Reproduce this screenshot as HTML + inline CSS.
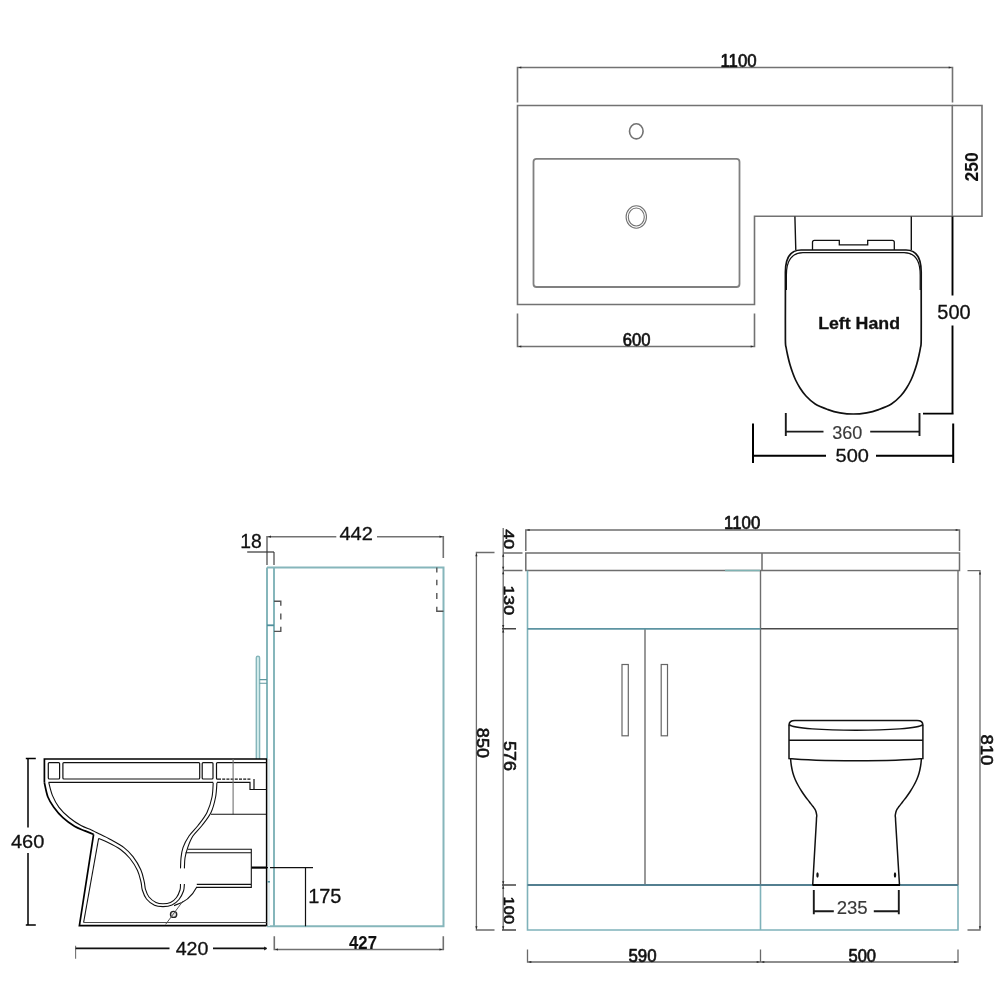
<!DOCTYPE html>
<html lang="en">
<head>
<meta charset="utf-8">
<title>Left Hand Combination Unit Dimensions</title>
<style>
html,body{margin:0;padding:0;background:#fff;}
body{width:1001px;height:1001px;overflow:hidden;position:relative;}
svg{display:block;position:absolute;left:0;top:0;will-change:transform;}
text{font-family:"Liberation Sans",Arial,Helvetica,sans-serif;fill:#111;stroke-linejoin:round;}
.g{stroke:#727272;stroke-width:1.6;fill:none;}
.k{stroke:#111;stroke-width:1.5;fill:none;}
.k2{stroke:#000;stroke-width:2.2;fill:none;}
.kt{stroke:#222;stroke-width:1.1;fill:none;}
.t{stroke:#86b6bb;stroke-width:2;fill:none;}
.td{stroke:#4f8f9c;stroke-width:1.8;fill:none;}
.d{stroke:#555;stroke-width:1.4;fill:none;}
</style>
</head>
<body>
<svg width="1001" height="1001" viewBox="0 0 1001 1001">
<rect x="0" y="0" width="1001" height="1001" fill="#ffffff"/>
<g id="topview">
<path class="g" d="M517.5 102.5V67.5H952.5V102.5"/>
<text transform="translate(720.47 66.76) scale(0.897 1)" font-size="18.79" style="fill:#111;stroke:#111;stroke-width:0.7px">1100</text>
<path class="g" d="M517.5 105.5H952.3V216.3H754.5V304.5H517.5Z"/>
<path class="g" d="M952.3 105.5H982V216.3H952.3"/>
<text transform="translate(977.76 181.46) rotate(-90) scale(0.912 1)" font-size="19.21" font-weight="bold" style="fill:#111;stroke:#111;stroke-width:0.1px">250</text>
<ellipse class="g" cx="636.3" cy="131.3" rx="6.8" ry="7.6"/>
<rect class="g" x="533.5" y="158.8" width="206" height="128.2" rx="3" ry="3" style="stroke:#808080;stroke-width:1.8"/>
<ellipse class="g" cx="636.3" cy="217" rx="10.2" ry="11.2" style="stroke-width:1.1"/>
<ellipse class="g" cx="636.3" cy="217" rx="8" ry="9" style="stroke-width:1.1"/>
<path class="g" d="M517.5 313.5V346.5H754.5V313.5"/>
<text transform="translate(622.80 346.21) scale(0.871 1)" font-size="19.14" style="fill:#111;stroke:#111;stroke-width:0.7px">600</text>
<path class="k" d="M794.9 216.5L795.8 250 M911.3 216.5V250" style="stroke-width:1.4"/>
<path class="k" d="M812.5 250V242.3Q812.5 240.3 814.5 240.3H839.3V244.9H867.7V240.3H892.3Q894.3 240.3 894.3 242.3V250" style="stroke-width:1.3"/>
<path class="k" d="M785.4 300V272C785.4 257 790.5 250 801 250H906C916.5 250 921.2 257 921.2 272V300 M785.4 300.0 C785.4 306.7 785.3 332.0 785.4 340.0 C785.5 348.0 785.8 345.3 786.2 348.0 C786.6 350.7 787.2 353.3 787.8 356.0 C788.4 358.7 789.0 361.3 789.8 364.0 C790.6 366.7 791.4 369.3 792.4 372.0 C793.4 374.7 794.3 377.3 795.6 380.0 C796.9 382.7 798.3 385.3 800.0 388.0 C801.7 390.7 803.5 393.3 806.0 396.0 C808.5 398.7 811.5 401.7 815.2 404.0 C818.9 406.3 823.9 408.1 828.0 409.6 C832.1 411.1 835.8 412.1 840.0 412.8 C844.2 413.5 848.9 414.0 853.3 414.0 C857.7 414.0 862.4 413.5 866.6 412.8 C870.8 412.1 874.5 411.1 878.6 409.6 C882.7 408.1 887.7 406.3 891.4 404.0 C895.1 401.7 898.1 398.7 900.6 396.0 C903.1 393.3 904.9 390.7 906.6 388.0 C908.3 385.3 909.7 382.7 911.0 380.0 C912.3 377.3 913.2 374.7 914.2 372.0 C915.2 369.3 916.0 366.7 916.8 364.0 C917.6 361.3 918.2 358.7 918.8 356.0 C919.4 353.3 920.0 350.7 920.4 348.0 C920.8 345.3 921.1 348.0 921.2 340.0 C921.3 332.0 921.2 306.7 921.2 300.0" style="stroke-width:1.7"/>
<path class="k" d="M786.4 290V275C786.4 260.5 792 252.7 803 252.7H904C915 252.7 920.2 260.5 920.2 275V290" style="stroke-width:1.2"/>
<text transform="translate(818.16 328.88) scale(1.044 1)" font-size="17.01" font-weight="bold" style="fill:#111;stroke:#111;stroke-width:0.3px">Left Hand</text>
<path class="k2" d="M952.5 216.5V295.6 M952.5 325.6V413.6 M923 413.6H953.6" style="stroke-width:1.9"/>
<text transform="translate(937.35 318.66) scale(1.031 1)" font-size="19.35" style="fill:#111;stroke:#111;stroke-width:0.3px">500</text>
<path class="k" d="M785.8 413V436 M919.5 413V436 M785.8 431.6H823.5 M870.2 431.6H919.5" style="stroke-width:1.9;stroke:#1a1a1a"/>
<text transform="translate(832.19 438.75) scale(1.036 1)" font-size="17.44" style="fill:#3a3a3a;stroke:#3a3a3a;stroke-width:0.15px">360</text>
<path class="k2" d="M753 423.5V463 M953.2 423.5V463 M753 455.8H826 M876 455.8H953.2" style="stroke-width:2"/>
<text transform="translate(835.55 461.86) scale(1.062 1)" font-size="18.79" style="fill:#111;stroke:#111;stroke-width:0.3px">500</text>
</g>
<g id="sideview">
<path class="t" d="M267 567.4H443.5V926.2H267 M274 567.4V926.2 M267 567.4V759"/>
<path class="t" d="M256.3 759V657.8Q256.3 656.3 257.9 656.3Q259.6 656.3 259.6 657.8V759" style="stroke-width:1.4;fill:#d2ecec"/>
<path class="d" d="M259.6 679.6H267 M259.6 683.2H267" style="stroke-width:1.1;stroke:#5f989e"/>
<path class="td" d="M267 625.3H274"/>
<path class="d" d="M274 601.2H280.8V605.8 M280.8 613.6V619.6 M280.8 626.8V631.4H274"/>
<path class="d" d="M436.8 567.4V572.6 M436.8 579.8V585.2 M436.8 593V599 M436.8 606.8V611.3H443.5"/>
<path class="g" d="M267 565V536.7H336.3 M377 536.7H443.3V558"/>
<text transform="translate(339.49 539.85) scale(1.082 1)" font-size="18.48" style="fill:#111;stroke:#111;stroke-width:0.3px">442</text>
<path class="g" d="M274 565V552"/>
<path class="kt" d="M247.2 552H274" style="stroke:#333;stroke-width:1.2"/>
<text transform="translate(240.18 548.45) scale(0.971 1)" font-size="19.92" style="fill:#111;stroke:#111;stroke-width:0.3px">18</text>
<path class="g" d="M274.3 936.3V949.5H443.3V936.3" style="stroke:#707070"/>
<text transform="translate(349.05 949.45) scale(0.887 1)" font-size="18.84" font-weight="bold" style="fill:#111;stroke:#111;stroke-width:0.1px">427</text>
<path class="kt" d="M266.6 867.6H313 M305.5 867.6V926.2" style="stroke-width:1.2;stroke:#111"/>
<path class="k2" d="M251.3 867.6H266.6" style="stroke-width:2.2"/>
<text transform="translate(308.13 903.40) scale(0.999 1)" font-size="19.99" style="fill:#111;stroke:#111;stroke-width:0.3px">175</text>
<path class="t" d="M269 759V926" style="stroke:#e4f0f2;stroke-width:2"/>
<path class="k2" d="M266.6 925.7V759" style="stroke-width:1.5"/>
<path class="k2" d="M267 759H44.4V782.7" style="stroke-width:1.7"/>
<path class="k2" d="M44.4 782.7 C45.0 785.1 46.3 792.9 47.9 797.0 C49.5 801.1 51.3 803.8 53.8 807.3 C56.3 810.8 59.4 814.6 62.9 817.7 C66.3 820.9 70.8 824.0 74.5 826.2 C78.2 828.4 81.8 829.5 85.0 830.9 C88.2 832.3 92.2 833.8 93.6 834.4" style="stroke-width:1.7"/>
<path class="k2" d="M93.6 834.4L79.4 925.7H266.6" style="stroke-width:1.7"/>
<path class="k" d="M98.6 838.5L83.6 922.5" style="stroke-width:1.1"/>
<path class="k" d="M83.6 922.5H266.6" style="stroke-width:1.1;stroke:#4a4a4a"/>
<rect class="k" x="48.3" y="762.6" width="11.3" height="16.4" rx="1" style="stroke-width:1.2"/>
<rect class="k" x="62.9" y="762.6" width="136.8" height="16.4" rx="1" style="stroke-width:1.2"/>
<rect class="k" x="202.2" y="762.6" width="10.8" height="16.4" rx="1" style="stroke-width:1.2"/>
<path class="k" d="M218 779.2H217.5Q216.5 779.2 216.5 778.2V763.6Q216.5 762.6 217.5 762.6H266.6" style="stroke-width:1.2"/>
<path class="k" d="M218 779.2H250.6" style="stroke-width:1.2;stroke-dasharray:3 1.2"/>
<path class="k" d="M48.5 782.4H213.2 M216.9 782.4H250V789.5H266.6 M254 779V789.5" style="stroke-width:1.2"/>
<path class="k" d="M48.8 782.7 C49.4 784.9 50.8 791.5 52.5 795.6 C54.2 799.7 56.2 803.6 59.0 807.3 C61.8 811.0 65.7 814.7 69.4 817.7 C73.1 820.7 77.3 823.5 81.0 825.5 C84.7 827.5 88.6 828.7 91.4 830.0 C94.2 831.3 94.7 831.7 98.0 833.3 C101.3 834.9 106.7 837.4 111.0 839.8 C115.3 842.2 120.3 844.8 124.0 847.6 C127.7 850.4 130.2 853.0 133.0 856.7 C135.8 860.4 138.9 865.6 140.8 869.7 C142.7 873.9 143.4 878.3 144.2 881.6 C145.0 884.9 144.7 886.8 145.5 889.4 C146.3 892.0 147.2 894.8 149.0 897.0 C150.8 899.2 153.7 901.4 156.0 902.5 C158.3 903.6 160.6 903.8 163.0 903.8 C165.4 903.8 168.2 903.5 170.5 902.5 C172.8 901.5 174.9 899.6 176.5 897.5 C178.1 895.4 179.3 892.2 180.0 890.0 C180.7 887.8 180.4 885.0 180.5 884.0" style="stroke-width:1.1"/>
<path class="k" d="M98.6 838.5 C100.2 839.2 104.3 840.7 108.0 842.5 C111.7 844.3 116.8 846.8 120.5 849.5 C124.2 852.2 127.2 855.0 130.0 858.5 C132.8 862.0 135.7 866.6 137.5 870.5 C139.3 874.4 140.2 878.8 141.0 882.0 C141.8 885.2 141.4 887.2 142.3 890.0 C143.2 892.8 144.5 896.5 146.5 899.0 C148.5 901.5 151.8 904.0 154.5 905.3 C157.2 906.6 160.1 906.6 163.0 906.6 C165.9 906.6 169.3 906.2 172.0 905.0 C174.7 903.8 177.1 901.8 179.0 899.5 C180.9 897.2 182.6 893.6 183.5 891.0 C184.4 888.4 184.2 885.2 184.4 884.0" style="stroke-width:1.1"/>
<path class="k" d="M216.9 782.7 C216.7 785.1 216.6 792.0 215.6 797.0 C214.6 802.0 213.3 807.8 211.0 812.5 C208.7 817.2 205.0 821.6 202.0 825.5 C199.0 829.4 195.3 832.3 192.9 836.0 C190.5 839.7 189.0 843.9 187.7 847.6 C186.4 851.3 185.6 854.5 185.0 858.0 C184.4 861.5 184.5 866.7 184.4 868.4" style="stroke-width:1.1"/>
<path class="k" d="M213.2 782.7 C213.0 785.1 213.0 792.0 212.0 797.0 C211.0 802.0 209.3 807.8 207.0 812.5 C204.7 817.2 201.0 821.6 198.0 825.5 C195.0 829.4 191.5 832.3 189.0 836.0 C186.5 839.7 184.3 843.9 183.0 847.6 C181.7 851.3 181.4 854.5 181.0 858.0 C180.6 861.5 180.6 866.7 180.5 868.4" style="stroke-width:1.1"/>
<path class="g" d="M233.1 759V814.2" style="stroke-width:1.1"/>
<path class="k" d="M211 814.2H266.6" style="stroke-width:1.1"/>
<path class="k" d="M187.7 849.3H251.3V887.4H196 M185.7 852.8H251.3 M196.8 884.4H251.3" style="stroke-width:1.1"/>
<path class="k" d="M196.5 887.4C192.5 895.5 185 902.5 174 905.6" style="stroke-width:1.1"/>
<ellipse cx="173.6" cy="914.4" rx="3.1" ry="3" fill="#e8e8e8" stroke="#222" stroke-width="1.4"/>
<path class="g" d="M183 901L165.6 924.4" style="stroke-width:1;stroke:#555"/>
<path class="td" d="M267.5 881.8H270" style="stroke-width:1.5"/>
<path class="k2" d="M25.8 758.4H35.8 M28 758.4V827.5 M28 853V925 M25.8 925H35.8" style="stroke-width:1.5"/>
<text transform="translate(10.94 847.91) scale(1.055 1)" font-size="19.00" style="fill:#111;stroke:#111;stroke-width:0.3px">460</text>
<path class="g" d="M75.6 945.8V958.8" style="stroke-width:1.1"/>
<path class="k" d="M75.6 948.4H169.5 M213 948.4H266.5" style="stroke-width:1.7"/>
<path d="M267 948.4L264.2 946.4V950.4Z" fill="#111"/>
<text transform="translate(175.70 955.26) scale(1.044 1)" font-size="18.79" style="fill:#111;stroke:#111;stroke-width:0.3px">420</text>
</g>
<g id="frontview">
<path class="g" d="M525.8 551V530H959.5V551" style="stroke:#6e6e6e;stroke-width:1.5"/>
<text transform="translate(724.07 529.46) scale(0.911 1)" font-size="18.50" style="fill:#111;stroke:#111;stroke-width:0.7px">1100</text>
<path class="g" d="M525.8 553H959.5V570.5H525.8Z M762 553V570.5" style="stroke:#6e6e6e;stroke-width:1.5"/>
<path class="g" d="M760.5 570.5V885 M958 570.5V885 M645 628.8V885" style="stroke:#6e6e6e;stroke-width:1.4"/>
<path class="g" d="M760.5 628.8H958" style="stroke:#4a4a4a;stroke-width:1.5"/>
<path class="t" d="M527.5 570.5V930H958V885 M760.5 885V930" style="stroke:#7fb2ba;stroke-width:1.6"/>
<path class="td" d="M527.5 628.8H760.5" style="stroke:#5d94a2;stroke-width:1.7"/>
<path class="td" d="M527.5 885H958" style="stroke:#537f90;stroke-width:1.8"/>
<path class="t" d="M725 570.6H760" style="stroke:#7fb3b3;stroke-width:1.5"/>
<rect class="g" x="622" y="664.5" width="6.3" height="71.3" style="stroke-width:1.2;stroke:#666"/>
<rect class="g" x="661.2" y="664.5" width="6.3" height="71.3" style="stroke-width:1.2;stroke:#666"/>
<path class="g" d="M503.2 528V930 M503.2 553H522.5 M503.2 570.5H522.5" style="stroke-width:1.3;stroke:#6c6c6c"/>
<path class="g" d="M502 628.8H516 M502 885H516 M502 930H516" style="stroke-width:1.4;stroke:#444"/>
<text transform="translate(503.85 529.29) rotate(90) scale(1.163 1)" font-size="15.40" style="fill:#111;stroke:#111;stroke-width:0.6px">40</text>
<text transform="translate(503.85 585.45) rotate(90) scale(1.154 1)" font-size="15.40" style="fill:#111;stroke:#111;stroke-width:0.6px">130</text>
<text transform="translate(503.86 740.98) rotate(90) scale(1.141 1)" font-size="15.82" style="fill:#111;stroke:#111;stroke-width:0.6px">576</text>
<text transform="translate(503.86 896.54) rotate(90) scale(1.063 1)" font-size="15.54" style="fill:#111;stroke:#111;stroke-width:0.6px">100</text>
<path class="g" d="M494.5 552.5H476.4V930H494.5" style="stroke-width:1.3;stroke:#6c6c6c"/>
<text transform="translate(477.06 727.82) rotate(90) scale(1.104 1)" font-size="16.38" style="fill:#111;stroke:#111;stroke-width:0.6px">850</text>
<path class="g" d="M967.5 570.7H980V930H967.5" style="stroke-width:1.3;stroke:#6c6c6c"/>
<text transform="translate(980.66 734.50) rotate(90) scale(1.141 1)" font-size="16.24" style="fill:#111;stroke:#111;stroke-width:0.6px">810</text>
<path class="g" d="M527.5 949.5V962H958V949.5 M760.5 949.5V962" style="stroke-width:1.3;stroke:#6a6a6a"/>
<text transform="translate(628.43 961.97) scale(0.915 1)" font-size="18.43" style="fill:#111;stroke:#111;stroke-width:0.7px">590</text>
<text transform="translate(848.44 961.97) scale(0.898 1)" font-size="18.43" style="fill:#111;stroke:#111;stroke-width:0.7px">500</text>
<path class="k" d="M795 720.4H917Q922.9 720.4 922.9 725V758.6C895 761.6 817 761.6 789 758.6V725Q789 720.4 795 720.4Z"/>
<path class="k" d="M789 724.6C797 732.2 915 732.2 922.9 724.6 M789 740.3H922.9"/>
<path class="k" d="M790.6 759.0 C790.7 760.2 791.0 763.7 791.4 766.0 C791.8 768.3 792.3 770.8 792.9 773.0 C793.5 775.2 794.3 777.4 795.2 779.5 C796.1 781.6 797.1 783.5 798.2 785.5 C799.3 787.5 800.6 789.6 801.8 791.5 C803.0 793.4 804.3 795.2 805.6 797.0 C806.9 798.8 808.3 800.4 809.5 802.0 C810.7 803.6 812.0 805.1 813.0 806.5 C814.0 807.9 815.0 809.1 815.6 810.5 C816.2 811.9 816.5 813.8 816.7 815.0 C816.9 816.2 816.6 817.0 816.5 818.0 C816.5 819.0 816.4 820.5 816.4 821.0 L812.7 885"/>
<path class="k" d="M921.4 759.0 C921.3 760.2 921.0 763.7 920.6 766.0 C920.2 768.3 919.7 770.8 919.1 773.0 C918.5 775.2 917.7 777.4 916.8 779.5 C915.9 781.6 914.9 783.5 913.8 785.5 C912.7 787.5 911.4 789.6 910.2 791.5 C909.0 793.4 907.7 795.2 906.4 797.0 C905.1 798.8 903.7 800.4 902.5 802.0 C901.3 803.6 900.0 805.1 899.0 806.5 C898.0 807.9 897.0 809.1 896.4 810.5 C895.8 811.9 895.5 813.8 895.3 815.0 C895.1 816.2 895.4 817.0 895.5 818.0 C895.5 819.0 895.6 820.5 895.6 821.0 L899.5 885"/>
<path class="k2" d="M812.5 885H900" style="stroke-width:2.2"/>
<ellipse cx="817.5" cy="875" rx="1.2" ry="2.8" fill="#111"/>
<ellipse cx="895" cy="875" rx="1.2" ry="2.8" fill="#111"/>
<path class="k" d="M813.8 890V914.3 M898.8 890V914.3 M813.8 911.2H833.8 M873.8 911.2H898.8" style="stroke-width:1.9;stroke:#1a1a1a"/>
<text transform="translate(836.64 913.99) scale(1.026 1)" font-size="18.15" style="fill:#3a3a3a;stroke:#3a3a3a;stroke-width:0.15px">235</text>
</g>
<path d="M518.3 67.5 L521.3 66.4 L521.3 68.6Z" fill="#2a2a2a"/>
<path d="M951.7 67.5 L948.7 66.4 L948.7 68.6Z" fill="#2a2a2a"/>
<path d="M518.3 346.5 L521.3 345.4 L521.3 347.6Z" fill="#2a2a2a"/>
<path d="M753.7 346.5 L750.7 345.4 L750.7 347.6Z" fill="#2a2a2a"/>
<path d="M268.0 536.7 L271.0 535.6 L271.0 537.8Z" fill="#2a2a2a"/>
<path d="M442.5 536.7 L439.5 535.6 L439.5 537.8Z" fill="#2a2a2a"/>
<path d="M275.0 949.5 L278.0 948.4 L278.0 950.6Z" fill="#2a2a2a"/>
<path d="M442.5 949.5 L439.5 948.4 L439.5 950.6Z" fill="#2a2a2a"/>
<path d="M526.6 530.0 L529.6 528.9 L529.6 531.1Z" fill="#2a2a2a"/>
<path d="M958.7 530.0 L955.7 528.9 L955.7 531.1Z" fill="#2a2a2a"/>
<path d="M528.3 962.0 L531.3 960.9 L531.3 963.1Z" fill="#2a2a2a"/>
<path d="M759.7 962.0 L756.7 960.9 L756.7 963.1Z" fill="#2a2a2a"/>
<path d="M761.3 962.0 L764.3 960.9 L764.3 963.1Z" fill="#2a2a2a"/>
<path d="M957.2 962.0 L954.2 960.9 L954.2 963.1Z" fill="#2a2a2a"/>
<path d="M476.4 553.3 L475.3 556.3 L477.5 556.3Z" fill="#2a2a2a"/>
<path d="M476.4 929.2 L475.3 926.2 L477.5 926.2Z" fill="#2a2a2a"/>
<path d="M980.0 571.5 L978.9 574.5 L981.1 574.5Z" fill="#2a2a2a"/>
<path d="M980.0 929.2 L978.9 926.2 L981.1 926.2Z" fill="#2a2a2a"/>
<path d="M503.2 553.8 L502.1 556.8 L504.3 556.8Z" fill="#2a2a2a"/>
<path d="M503.2 569.8 L502.1 566.8 L504.3 566.8Z" fill="#2a2a2a"/>
<path d="M503.2 571.3 L502.1 574.3 L504.3 574.3Z" fill="#2a2a2a"/>
<path d="M503.2 628.0 L502.1 625.0 L504.3 625.0Z" fill="#2a2a2a"/>
<path d="M503.2 629.6 L502.1 632.6 L504.3 632.6Z" fill="#2a2a2a"/>
<path d="M503.2 884.2 L502.1 881.2 L504.3 881.2Z" fill="#2a2a2a"/>
<path d="M503.2 885.8 L502.1 888.8 L504.3 888.8Z" fill="#2a2a2a"/>
<path d="M503.2 929.2 L502.1 926.2 L504.3 926.2Z" fill="#2a2a2a"/>
</svg>
</body>
</html>
